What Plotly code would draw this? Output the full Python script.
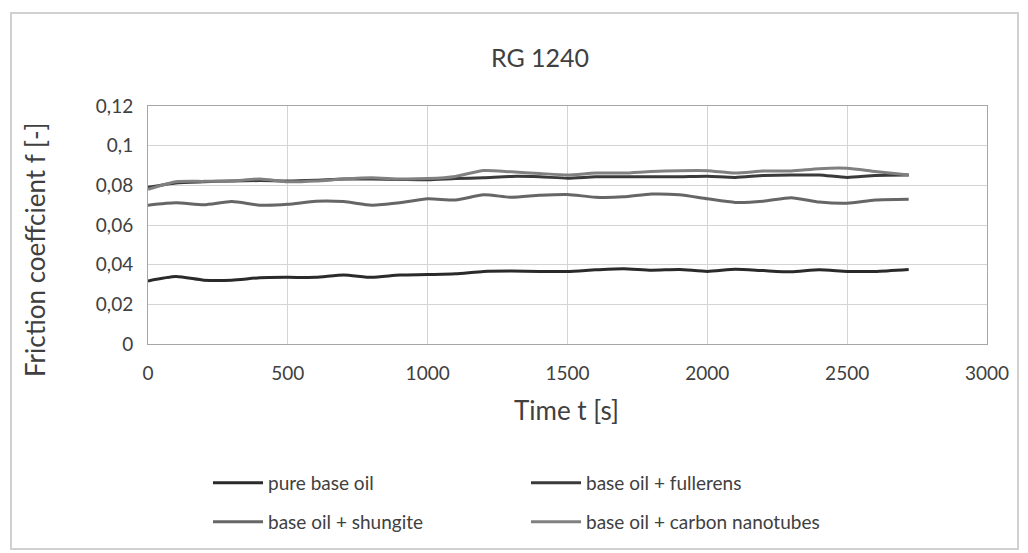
import plotly.graph_objects as go

time_s = [0, 100, 200, 300, 400, 500, 600, 700, 800, 900, 1000, 1100, 1200, 1300,
          1400, 1500, 1600, 1700, 1800, 1900, 2000, 2100, 2200, 2300, 2400, 2500, 2600, 2720]

pure_base_oil = [0.0318, 0.0340, 0.0322, 0.0322, 0.0334, 0.0336, 0.0336, 0.0348, 0.0336, 0.0348,
                 0.0350, 0.0354, 0.0366, 0.0368, 0.0366, 0.0366, 0.0374, 0.0380, 0.0372, 0.0376,
                 0.0366, 0.0377, 0.0370, 0.0364, 0.0374, 0.0366, 0.0366, 0.0376]
fullerens = [0.0790, 0.0812, 0.0818, 0.0822, 0.0824, 0.0822, 0.0826, 0.0832, 0.0832, 0.0830,
             0.0828, 0.0834, 0.0838, 0.0845, 0.0843, 0.0836, 0.0843, 0.0843, 0.0843, 0.0843,
             0.0846, 0.0840, 0.0850, 0.0852, 0.0852, 0.0840, 0.0850, 0.0852]
shungite = [0.0700, 0.0712, 0.0702, 0.0718, 0.0700, 0.0704, 0.0720, 0.0718, 0.0700, 0.0712,
            0.0732, 0.0726, 0.0752, 0.0740, 0.0750, 0.0754, 0.0740, 0.0742, 0.0756, 0.0752,
            0.0732, 0.0714, 0.0720, 0.0738, 0.0716, 0.0710, 0.0726, 0.0730]
nanotubes = [0.0780, 0.0818, 0.0820, 0.0822, 0.0832, 0.0818, 0.0822, 0.0832, 0.0838, 0.0832,
             0.0834, 0.0845, 0.0875, 0.0868, 0.0860, 0.0852, 0.0862, 0.0862, 0.0870, 0.0874,
             0.0874, 0.0862, 0.0872, 0.0872, 0.0884, 0.0886, 0.0870, 0.0852]

series_names = ["pure base oil", "base oil + fullerens", "base oil + shungite", "base oil + carbon nanotubes"]
series_colors = ["#2a2a2a", "#3a3a3a", "#666666", "#808080"]

x_tickvals = [0, 500, 1000, 1500, 2000, 2500, 3000]
x_ticktext = ["0", "500", "1000", "1500", "2000", "2500", "3000"]
y_tickvals = [0, 0.02, 0.04, 0.06, 0.08, 0.10, 0.12]
y_ticktext = ["0", "0,02", "0,04", "0,06", "0,08", "0,1", "0,12"]

FONT = "Lato"
TXT = "#404040"

fig = go.Figure()
legends = ["legend", "legend2", "legend3", "legend4"]
order = [pure_base_oil, fullerens, shungite, nanotubes]
draw_idx = [0, 2, 1, 3]
for i in draw_idx:
    fig.add_trace(go.Scatter(
        x=time_s, y=order[i], mode="lines", name=series_names[i],
        line=dict(color=series_colors[i], width=3, shape="spline", smoothing=0.6),
        legend=legends[i],
    ))

W, H = 1028, 553
L, R, T, B = 148, 987, 106, 344

def px(xp):
    return (xp - L) / (R - L)

def py(yp):
    return (B - yp) / (B - T)

leg_common = dict(orientation="v", xanchor="left", yanchor="middle", itemwidth=50,
                  font=dict(family=FONT, size=19, color=TXT),
                  bgcolor="rgba(0,0,0,0)", borderwidth=0)
leg_pos = [(208, 483), (526, 483), (208, 522), (526, 522)]

layout_legends = {}
for name, (lx, ly) in zip(legends, leg_pos):
    layout_legends[name] = dict(x=px(lx), y=py(ly), **leg_common)

fig.update_layout(
    width=W, height=H,
    margin=dict(l=L, r=W - R, t=T, b=H - B),
    paper_bgcolor="white", plot_bgcolor="white",
    font=dict(family=FONT, color=TXT),
    title=dict(text="RG 1240", x=540 / W, y=1 - 58 / H, xref="container", yref="container",
               xanchor="center", yanchor="middle",
               font=dict(family=FONT, size=25, color=TXT)),
    xaxis=dict(range=[0, 3000], tickvals=x_tickvals, ticktext=x_ticktext,
               showgrid=True, gridcolor="#d4d4d4", gridwidth=1,
               showline=True, linecolor="#a6a6a6", linewidth=1, mirror=True,
               ticks="", ticklabelstandoff=12,
               tickfont=dict(family=FONT, size=19, color=TXT), zeroline=False),
    yaxis=dict(range=[0, 0.12], tickvals=y_tickvals, ticktext=y_ticktext,
               showgrid=True, gridcolor="#d4d4d4", gridwidth=1,
               showline=True, linecolor="#a6a6a6", linewidth=1, mirror=True,
               ticks="", ticklabelstandoff=10,
               tickfont=dict(family=FONT, size=19, color=TXT), zeroline=False),
    showlegend=True,
    **layout_legends,
    annotations=[
        dict(text="Time t [s]", x=px(566), y=py(410), xref="paper", yref="paper",
             showarrow=False, xanchor="center", yanchor="middle",
             font=dict(family=FONT, size=26, color=TXT)),
        dict(text="Friction coeffcient f [-]", x=px(35), y=py(250), xref="paper", yref="paper",
             showarrow=False, xanchor="center", yanchor="middle", textangle=-90,
             font=dict(family=FONT, size=26, color=TXT)),
    ],
    shapes=[
        dict(type="rect", xref="paper", yref="paper",
             x0=px(11), x1=px(1018), y0=py(549), y1=py(13),
             line=dict(color="#d0d0d0", width=2), fillcolor="rgba(0,0,0,0)", layer="below"),
    ],
)

fig.write_html("out.html")
